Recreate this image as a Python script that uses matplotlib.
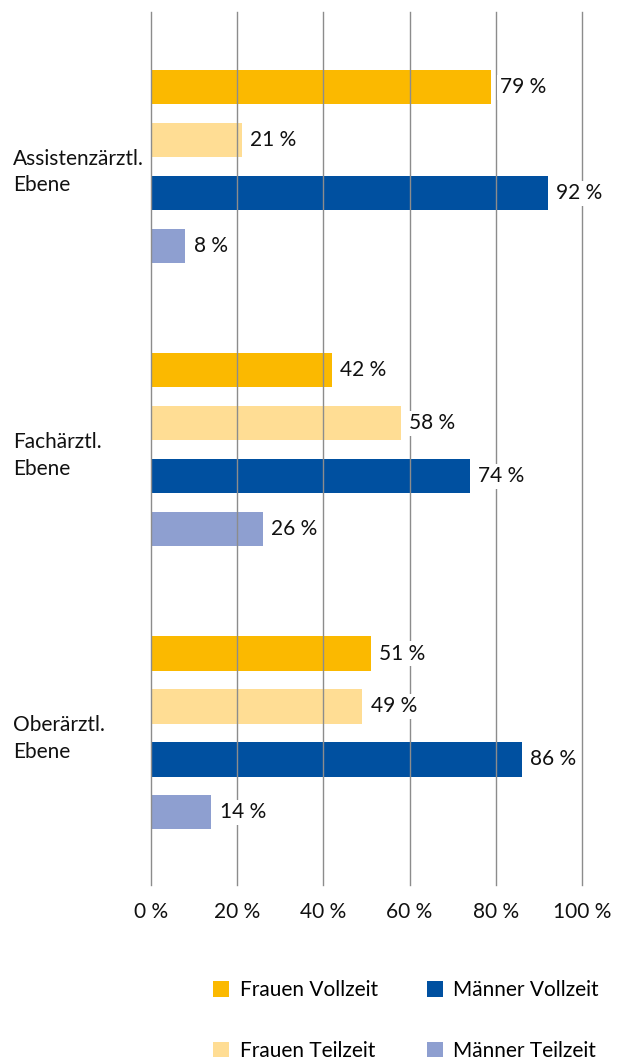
import matplotlib.pyplot as plt
from matplotlib.patches import Patch

levels = ["Assistenzärztl.\nEbene", "Fachärztl.\nEbene", "Oberärztl.\nEbene"]
series = ["Frauen Vollzeit", "Frauen Teilzeit", "Männer Vollzeit", "Männer Teilzeit"]
frauen_voll = [79, 42, 51]
frauen_teil = [21, 58, 49]
maenner_voll = [92, 74, 86]
maenner_teil = [8, 26, 14]
ticks = [0, 20, 40, 60, 80, 100]

colors = ["#FBB900", "#FFDD94", "#0050A0", "#8E9FD0"]
values = [frauen_voll, frauen_teil, maenner_voll, maenner_teil]

plt.rcParams['font.family'] = ['Lato', 'DejaVu Sans']
fs = 15

fig = plt.figure(figsize=(6.17, 10.62), dpi=100)
ax = fig.add_axes([151/617, 1-885/1062, (582-151)/617, (885-12)/1062])

step = 0.187
offsets = [-1.5, -0.5, 0.5, 1.5]
for vals, col, off in zip(values, colors, offsets):
    ys = [i + off*step for i in range(len(levels))]
    ax.barh(ys, vals, height=0.121, color=col, zorder=1)
    for y, v in zip(ys, vals):
        ax.annotate(f"{v} %", (v, y), xytext=(6, 0), textcoords="offset points",
                    va="center", ha="left", fontsize=fs, color="#111111", zorder=5,
                    bbox=dict(boxstyle="square,pad=0.12", fc="white", ec="none"))

ax.set_xlim(0, 100)
ax.set_ylim(2.537, -0.546)
ax.set_xticks(ticks)
ax.set_xticklabels([f"{t} %" for t in ticks], fontsize=fs, color="#111111")
ax.tick_params(axis="x", length=0, pad=12)
ax.set_yticks([])
for s in ax.spines.values():
    s.set_visible(False)
for t in ticks:
    ax.axvline(t, color="#8c8c8c", lw=1.0, zorder=3, clip_on=False)

for i, lab in enumerate(levels):
    ax.text(-138/4.31, i + 0.02, lab, ha="left", va="center", fontsize=fs,
            color="#111111", linespacing=1.4)

handles = [Patch(facecolor=c, edgecolor="none") for c in colors]
fig.legend(handles, series, ncol=2, loc="upper left",
           bbox_to_anchor=(213/617, 1-980/1062), frameon=False, fontsize=fs,
           handlelength=0.78, handleheight=0.78, handletextpad=0.5,
           labelspacing=1.95, columnspacing=2.35, borderpad=0, borderaxespad=0)

fig.savefig("out.png", dpi=100)
